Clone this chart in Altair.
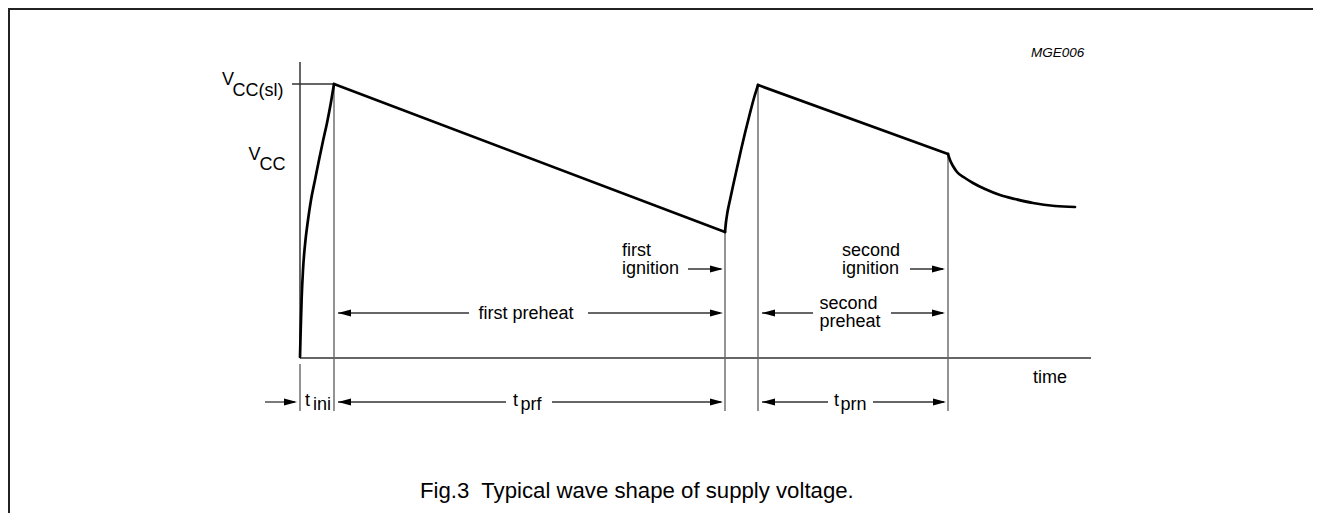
import altair as alt
import pandas as pd

# ---- page coordinate frame (plot area placed at the page's 8px margin) ----
W, H = 1305, 505
X0, Y0 = 8, 8

# ---- waveform (supply voltage) ----
# curved pieces (smooth)
curve_seg = [1] * 13 + [2] * 11 + [3] * 12
curve_x = [300, 300.7, 301.6, 303, 305.5, 308, 311, 315, 319, 323, 327, 331, 334,
           725, 726, 727.5, 730, 733, 737, 741, 745, 750, 754, 758,
           948, 950, 953, 957, 965, 973, 985, 1000, 1015, 1033, 1055, 1075]
curve_y = [357, 330, 300, 270, 240, 220, 200, 180, 160, 141, 123, 102, 84,
           232, 222, 212, 200, 186, 168, 150, 133, 113, 98, 85,
           154, 160, 166, 172, 178, 183, 189, 195, 199, 203, 206, 207]
# straight discharge ramps
ramp_x1 = [334, 758]
ramp_x2 = [725, 948]
ramp_y1 = [84, 85]
ramp_y2 = [232, 154]

# ---- axes ----
axis_x1 = [300, 300, 292]
axis_x2 = [300, 1091, 334]
axis_y1 = [62, 358, 84]
axis_y2 = [358, 358, 84]

# ---- thin vertical guide lines ----
guide_x = [334, 725, 758, 948, 300]
guide_top = [84, 232, 85, 154, 364]
guide_bottom = [411, 411, 411, 411, 411]

# ---- arrow shafts ----
shaft_y = [313, 313, 269, 269, 313, 313, 402, 402, 402, 402, 402]
shaft_x1 = [338, 588, 688, 910, 762, 891, 265, 338, 552, 762, 873]
shaft_x2 = [469, 720, 721, 943, 813, 943, 295, 506, 721, 828, 944]

# ---- arrow heads (tip position, direction) ----
head_x = [338, 723, 723, 945, 762, 945, 297, 338, 723, 762, 946]
head_y = [313, 313, 269, 269, 313, 313, 402, 402, 402, 402, 402]
head_dir = ["L", "R", "R", "R", "L", "R", "R", "L", "R", "L", "R"]

# ---- labels ----
label_text = ["V", "CC(sl)", "V", "CC", "first", "ignition", "second", "ignition",
              "second", "preheat", "first preheat", "t", "ini", "t", "prf", "t", "prn", "time"]
label_x = [222, 232.5, 248.5, 259.5, 622, 622, 842, 842,
           819.5, 819.5, 478.5, 305, 313, 513, 520.5, 834, 840.5, 1033]
label_y = [85, 96, 160, 170, 255.5, 273.5, 255.5, 273.5,
           308.5, 326.5, 319, 405.5, 410, 405.5, 410, 405.5, 410, 383]

code_text = ["MGE006"]
code_x = [1031]
code_y = [57]

caption_text = ["Fig.3\u00a0 Typical wave shape of supply voltage."]
caption_x = [420]
caption_y = [498]

# ---- frame border (only top and left edges fall inside the picture) ----
border_x = [9, 9, 1330]
border_y = [520, 9, 9]

FONT = "Liberation Sans"

xs = alt.Scale(domain=[X0, X0 + W], nice=False, zero=False)
ys = alt.Scale(domain=[Y0, Y0 + H], reverse=True, nice=False, zero=False)


def X(f):
    return alt.X(f, type="quantitative", scale=xs, axis=None)


def Y(f):
    return alt.Y(f, type="quantitative", scale=ys, axis=None)


def seg_layer(x1, x2, y1, y2, color, width, cap="butt"):
    df = pd.DataFrame({"x1": x1, "x2": x2, "y1": y1, "y2": y2})
    return alt.Chart(df).mark_rule(color=color, strokeWidth=width, strokeCap=cap).encode(
        x=X("x1"), x2="x2", y=Y("y1"), y2="y2")


curve_df = pd.DataFrame({"x": curve_x, "y": curve_y, "seg": curve_seg,
                         "i": list(range(len(curve_x)))})
curves = alt.Chart(curve_df).mark_line(
    color="black", strokeWidth=2.7, strokeCap="round", strokeJoin="round",
    interpolate="monotone").encode(
    x=X("x"), y=Y("y"), detail="seg:N", order="i:Q")

ramps = seg_layer(ramp_x1, ramp_x2, ramp_y1, ramp_y2, "black", 2.7, cap="round")

axes = seg_layer(axis_x1, axis_x2, axis_y1, axis_y2, "#333333", 1.5)
guides = seg_layer(guide_x, guide_x, guide_top, guide_bottom, "#666666", 1.4)
shafts = seg_layer(shaft_x1, shaft_x2, shaft_y, shaft_y, "#333333", 1.3)

border_df = pd.DataFrame({"x": border_x, "y": border_y, "i": list(range(len(border_x)))})
border = alt.Chart(border_df).mark_line(
    color="#222222", strokeWidth=2, strokeJoin="miter").encode(
    x=X("x"), y=Y("y"), order="i:Q")

heads_df = pd.DataFrame({"x": head_x, "y": head_y, "d": head_dir})
RIGHT = "M0,0 L-2,-0.55 L-2,0.55 Z"
LEFT = "M0,0 L2,-0.55 L2,0.55 Z"
heads_r = alt.Chart(heads_df).transform_filter(alt.datum.d == "R").mark_point(
    shape=RIGHT, filled=True, size=169, color="black", opacity=1, strokeWidth=0).encode(
    x=X("x"), y=Y("y"))
heads_l = alt.Chart(heads_df).transform_filter(alt.datum.d == "L").mark_point(
    shape=LEFT, filled=True, size=169, color="black", opacity=1, strokeWidth=0).encode(
    x=X("x"), y=Y("y"))

labels = alt.Chart(pd.DataFrame({"t": label_text, "x": label_x, "y": label_y})).mark_text(
    align="left", baseline="alphabetic", font=FONT, fontSize=18, color="black").encode(
    x=X("x"), y=Y("y"), text="t:N")

code = alt.Chart(pd.DataFrame({"t": code_text, "x": code_x, "y": code_y})).mark_text(
    align="left", baseline="alphabetic", font=FONT, fontSize=13.5, fontStyle="italic",
    color="black").encode(x=X("x"), y=Y("y"), text="t:N")

caption = alt.Chart(pd.DataFrame({"t": caption_text, "x": caption_x, "y": caption_y})).mark_text(
    align="left", baseline="alphabetic", font=FONT, fontSize=22.2, color="black").encode(
    x=X("x"), y=Y("y"), text="t:N")

chart = alt.layer(border, axes, guides, shafts, heads_r, heads_l, ramps, curves,
                  labels, code, caption).properties(
    width=W, height=H, padding=0, autosize=alt.AutoSizeParams(type="none")
).configure(background="white",
            view=alt.ViewConfig(stroke="transparent", strokeWidth=0))

chart.save("out.html", embed_options={"renderer": "svg", "actions": False})
